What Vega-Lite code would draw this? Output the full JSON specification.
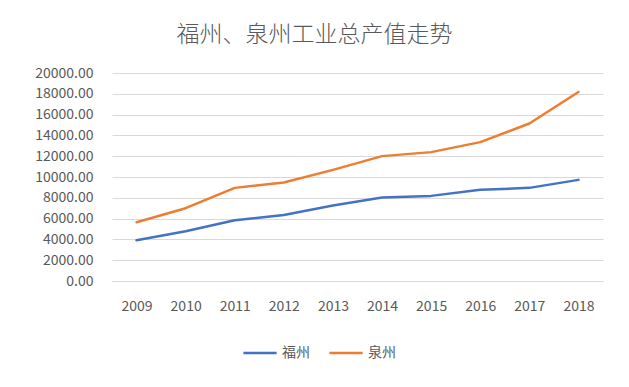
{
  "$schema": "https://vega.github.io/schema/vega-lite/v6.json",
  "autosize": "none",
  "width": 491,
  "height": 208,
  "padding": {"left": 112, "top": 73, "right": 26, "bottom": 106},
  "background": "white",
  "title": {
    "text": "福州、泉州工业总产值走势",
    "font": "Noto Sans CJK SC",
    "fontSize": 23,
    "fontWeight": 300,
    "color": "#595959",
    "anchor": "middle",
    "dx": -43,
    "offset": 19
  },
  "data": {
    "values": [
      {"year": "2009", "city": "福州", "value": 3919},
      {"year": "2010", "city": "福州", "value": 4786},
      {"year": "2011", "city": "福州", "value": 5845},
      {"year": "2012", "city": "福州", "value": 6355},
      {"year": "2013", "city": "福州", "value": 7251},
      {"year": "2014", "city": "福州", "value": 8021},
      {"year": "2015", "city": "福州", "value": 8185},
      {"year": "2016", "city": "福州", "value": 8763},
      {"year": "2017", "city": "福州", "value": 8955},
      {"year": "2018", "city": "福州", "value": 9725},
      {"year": "2009", "city": "泉州", "value": 5652},
      {"year": "2010", "city": "泉州", "value": 7000},
      {"year": "2011", "city": "泉州", "value": 8955},
      {"year": "2012", "city": "泉州", "value": 9466},
      {"year": "2013", "city": "泉州", "value": 10688},
      {"year": "2014", "city": "泉州", "value": 12007},
      {"year": "2015", "city": "泉州", "value": 12392},
      {"year": "2016", "city": "泉州", "value": 13355},
      {"year": "2017", "city": "泉州", "value": 15147},
      {"year": "2018", "city": "泉州", "value": 18171}
    ]
  },
  "mark": {"type": "line", "strokeWidth": 2.5, "strokeCap": "round", "strokeJoin": "round"},
  "encoding": {
    "x": {
      "field": "year",
      "type": "ordinal",
      "scale": {"type": "point", "padding": 0.5},
      "axis": {
        "title": null,
        "labelAngle": 0,
        "ticks": false,
        "domain": true,
        "domainColor": "#d9d9d9",
        "domainWidth": 1,
        "labelPadding": 18,
        "labelFont": "Noto Sans CJK SC",
        "labelFontSize": 14,
        "labelColor": "#595959"
      }
    },
    "y": {
      "field": "value",
      "type": "quantitative",
      "scale": {"domain": [0, 20000], "nice": false},
      "axis": {
        "title": null,
        "values": [0, 2000, 4000, 6000, 8000, 10000, 12000, 14000, 16000, 18000, 20000],
        "format": ".2f",
        "domain": false,
        "ticks": false,
        "grid": true,
        "gridColor": "#d9d9d9",
        "gridWidth": 1,
        "labelPadding": 19,
        "labelFont": "Noto Sans CJK SC",
        "labelFontSize": 14,
        "labelColor": "#595959"
      }
    },
    "color": {
      "field": "city",
      "type": "nominal",
      "scale": {"domain": ["福州", "泉州"], "range": ["#4472C4", "#ED7D31"]},
      "legend": {
        "title": null,
        "orient": "none",
        "direction": "horizontal",
        "legendX": 130,
        "legendY": 262,
        "symbolType": "stroke",
        "symbolSize": 1100,
        "symbolStrokeWidth": 2.5,
        "labelFont": "Noto Sans CJK SC",
        "labelFontSize": 14,
        "labelColor": "#595959",
        "columnPadding": 14,
        "labelOffset": 4
      }
    }
  },
  "config": {
    "view": {"stroke": null}
  }
}
